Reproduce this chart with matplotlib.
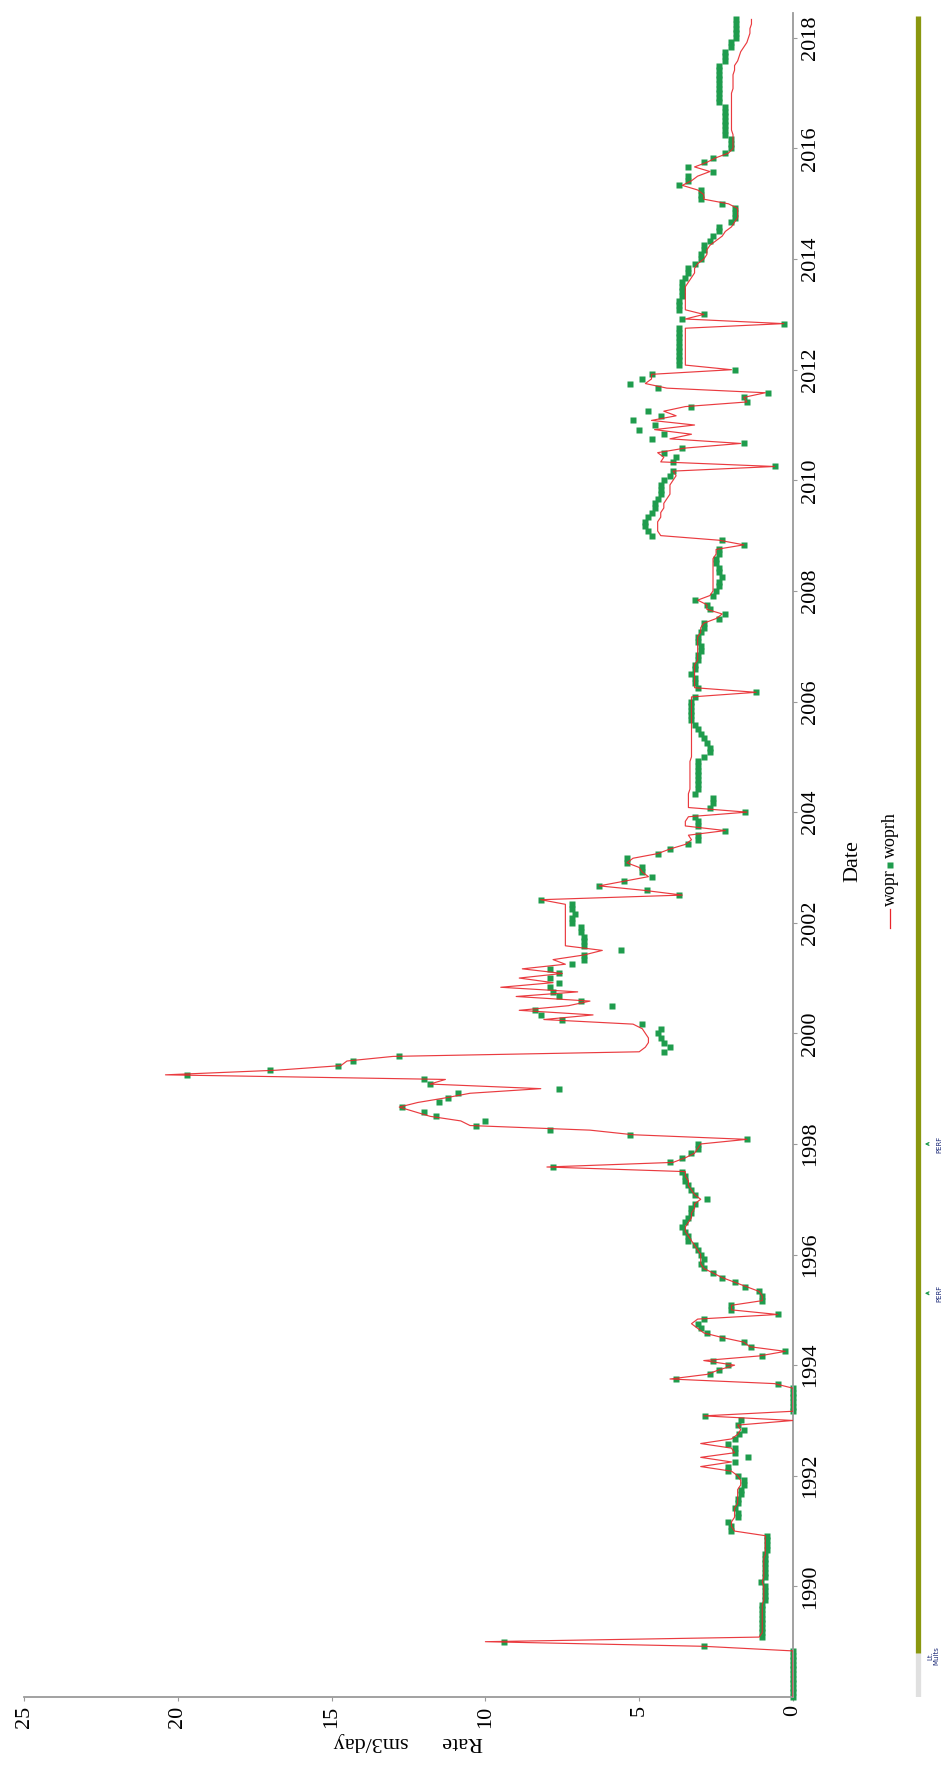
import numpy as np
import matplotlib
matplotlib.use("Agg")
import matplotlib.pyplot as plt
from matplotlib.lines import Line2D

plt.rcParams['font.family'] = ['Liberation Serif', 'DejaVu Serif']

# monthly oil rates, Jan 1988 .. May 2018 (sm3/day), one row per year
woprh = [
    0, 0, 0, 0, 0, 0, 0, 0, 0, 0, 0, 2.9,
    9.4, 1.0, 1.0, 1.0, 1.0, 1.0, 1.0, 1.0, 1.0, 0.9, 0.9, 0.9,
    0.9, 1.05, 0.9, 0.9, 0.9, 0.9, 0.9, 0.9, 0.85, 0.85, 0.85, 0.85,
    2.0, 2.0, 2.1, 1.8, 1.8, 1.9, 1.8, 1.8, 1.7, 1.7, 1.6, 1.6,
    1.8, 2.1, 2.1, 1.9, 1.45, 1.9, 1.9, 2.1, 1.9, 1.75, 1.6, 1.8,
    1.7, 2.85, 0, 0, 0, 0, 0, 0, 0.5, 3.8, 2.7, 2.4,
    2.1, 2.6, 1.0, 0.26, 1.35, 1.6, 2.3, 2.8, 3.0, 3.1, 2.9, 0.5,
    2.0, 2.0, 1.0, 1.0, 1.1, 1.55, 1.9, 2.3, 2.6, 2.9, 3.0, 2.9,
    3.0, 3.1, 3.2, 3.4, 3.4, 3.5, 3.6, 3.5, 3.4, 3.3, 3.3, 3.2,
    2.8, 3.2, 3.3, 3.4, 3.5, 3.5, 3.6, 7.8, 4.0, 3.6, 3.3, 3.1,
    3.1, 1.5, 5.3, 7.9, 10.3, 10.0, 11.6, 12.0, 12.7, 11.5, 11.2, 10.9,
    7.6, 11.8, 12.0, 19.7, 17.0, 14.8, 14.3, 12.8, 4.2, 4.0, 4.2, 4.3,
    4.4, 4.3, 4.9, 7.5, 8.2, 8.4, 5.9, 6.9, 7.6, 7.8, 7.9, 7.6,
    7.9, 7.6, 7.9, 7.2, 6.8, 6.8, 5.6, 6.8, 6.8, 6.8, 6.9, 6.9,
    7.2, 7.2, 7.1, 7.2, 7.2, 8.2, 3.7, 4.75, 6.3, 5.5, 4.6, 4.9,
    4.9, 5.4, 5.4, 4.4, 4.0, 3.4, 3.1, 3.1, 2.2, 3.1, 3.1, 3.2,
    1.55, 2.7, 2.6, 2.6, 3.2, 3.1, 3.1, 3.1, 3.1, 3.1, 3.1, 3.1,
    2.9, 2.7, 2.7, 2.8, 2.9, 3.0, 3.1, 3.2, 3.3, 3.3, 3.3, 3.3,
    3.3, 3.2, 1.2, 3.1, 3.2, 3.2, 3.3, 3.2, 3.2, 3.1, 3.1, 3.0,
    3.0, 3.1, 3.1, 3.0, 2.9, 2.9, 2.4, 2.2, 2.7, 2.8, 3.2, 2.6,
    2.5, 2.4, 2.4, 2.3, 2.4, 2.4, 2.5, 2.5, 2.4, 2.4, 1.6, 2.3,
    4.6, 4.7, 4.8, 4.8, 4.7, 4.6, 4.5, 4.5, 4.4, 4.3, 4.3, 4.3,
    4.2, 4.0, 3.9, 0.6, 3.9, 3.8, 4.2, 3.6, 1.6, 4.6, 4.2, 5.0,
    4.5, 5.2, 4.3, 4.7, 3.3, 1.5, 1.6, 0.8, 4.4, 5.3, 4.9, 4.6,
    1.9, 3.7, 3.7, 3.7, 3.7, 3.7, 3.7, 3.7, 3.7, 3.7, 0.3, 3.6,
    2.9, 3.7, 3.7, 3.7, 3.6, 3.6, 3.6, 3.6, 3.5, 3.4, 3.4, 3.2,
    3.0, 3.0, 2.9, 2.9, 2.7, 2.6, 2.4, 2.4, 2.0, 1.9, 1.9, 1.9,
    2.3, 3.0, 3.0, 3.0, 3.7, 3.4, 3.4, 2.6, 3.4, 2.9, 2.6, 2.2,
    2.0, 2.0, 2.0, 2.2, 2.2, 2.2, 2.2, 2.2, 2.2, 2.2, 2.4, 2.4,
    2.4, 2.4, 2.4, 2.4, 2.4, 2.4, 2.4, 2.2, 2.2, 2.2, 2.0, 2.0,
    1.85, 1.85, 1.85, 1.85, 1.85,
]

wopr = [
    0, 0, 0, 0, 0, 0, 0, 0, 0, 0, 0, 2.9,
    10.0, 1.1, 1.0, 1.0, 1.0, 1.0, 1.0, 1.0, 1.0, 0.95, 0.95, 0.95,
    0.95, 1.0, 0.95, 0.95, 0.95, 0.95, 0.95, 0.9, 0.9, 0.9, 0.9, 0.9,
    1.9, 2.0, 2.0, 1.9, 1.9, 1.9, 1.8, 1.8, 1.8, 1.8, 1.7, 1.7,
    1.8, 2.0, 3.0, 2.0, 3.0, 1.9, 2.0, 3.0, 2.0, 1.8, 1.7, 1.8,
    0.0, 2.9, 0, 0, 0, 0, 0, 0, 0.6, 4.0, 2.8, 2.4,
    1.9, 2.9, 1.1, 0.25, 1.4, 1.6, 2.3, 2.9, 3.1, 3.3, 3.1, 0.5,
    2.0, 2.0, 1.0, 1.0, 1.1, 1.5, 1.9, 2.3, 2.6, 2.9, 3.0, 3.0,
    3.0, 3.1, 3.2, 3.3, 3.4, 3.5, 3.5, 3.4, 3.3, 3.3, 3.2, 3.2,
    3.0, 3.2, 3.3, 3.4, 3.4, 3.5, 3.5, 8.0, 3.9, 3.5, 3.2, 3.1,
    3.0, 1.5, 5.2, 6.6, 10.5, 10.8, 11.8, 12.3, 12.8, 12.2, 11.3, 10.5,
    8.2, 11.8, 11.3, 20.4, 16.8, 14.7, 14.5, 13.0, 5.0, 4.8, 4.7, 4.7,
    4.8, 4.9, 5.2, 8.1, 6.5, 8.9, 7.3, 6.6, 9.0, 7.0, 9.5, 7.8,
    8.9, 7.5, 8.8, 7.4, 7.8, 6.8, 6.2, 7.4, 7.4, 7.4, 7.4, 7.4,
    7.4, 7.4, 7.4, 7.4, 7.4, 8.2, 3.6, 4.8, 6.3, 5.5, 4.7, 4.9,
    5.0, 5.4, 5.2, 4.4, 4.0, 3.5, 3.3, 3.4, 2.2, 3.5, 3.5, 3.4,
    1.5, 3.4, 3.4, 3.4, 3.4, 3.35, 3.35, 3.35, 3.35, 3.35, 3.35, 3.35,
    3.3, 3.3, 3.3, 3.3, 3.3, 3.3, 3.3, 3.3, 3.3, 3.3, 3.3, 3.3,
    3.3, 3.3, 1.2, 3.2, 3.2, 3.2, 3.2, 3.2, 3.2, 3.1, 3.1, 3.1,
    3.1, 3.1, 3.1, 3.0, 3.0, 2.9, 2.5, 2.3, 2.8, 2.8, 3.1, 2.7,
    2.6, 2.6, 2.6, 2.6, 2.6, 2.6, 2.6, 2.6, 2.5, 2.5, 1.6, 2.4,
    4.3, 4.4, 4.4, 4.4, 4.3, 4.3, 4.2, 4.2, 4.1, 4.0, 4.0, 4.0,
    3.9, 3.8, 3.9, 0.6, 4.3, 4.2, 4.4, 3.5, 1.7, 4.0, 3.3, 4.5,
    3.2, 4.6, 3.8, 4.2, 3.5, 1.5, 1.6, 0.9, 4.1, 4.8, 4.6, 4.6,
    2.0, 3.5, 3.5, 3.5, 3.5, 3.5, 3.5, 3.5, 3.5, 3.5, 0.3, 3.5,
    2.9, 3.5, 3.5, 3.5, 3.5, 3.5, 3.5, 3.4, 3.3, 3.2, 3.2, 3.1,
    2.9, 2.8, 2.8, 2.7, 2.5, 2.3, 2.2, 2.0, 1.9, 1.8, 1.8, 1.8,
    2.1, 2.9, 2.9, 3.1, 3.6, 3.3, 3.1, 2.7, 3.2, 2.8, 2.5, 2.1,
    1.95, 1.95, 1.95, 1.95, 2.0, 2.0, 2.0, 2.0, 2.0, 2.0, 2.0, 2.0,
    2.0, 1.95, 1.95, 1.95, 1.95, 1.9, 1.9, 1.8, 1.75, 1.7, 1.6, 1.5,
    1.45, 1.4, 1.4, 1.35, 1.35,
]

# one sample per month starting January 1988
dates = 1988 + np.arange(len(woprh)) / 12.0

date_ticks = list(range(1990, 2019, 2))
rate_ticks = [0, 5, 10, 15, 20, 25]

# well schedule track
track_start, track_end = 1988.0, 2018.4
event_dates = [1988.8, 1995.3, 1998.0]
event_names = ['Lt.\nMults', 'PERF', 'PERF']

W, H = 947, 1771
fig = plt.figure(figsize=(W / 100, H / 100), dpi=100)


def box(x0, y0, x1, y1):
    # pixel box (origin top-left) -> figure rect
    return [x0 / W, 1 - y1 / H, (x1 - x0) / W, (y1 - y0) / H]


green = '#1f9c4d'
red = '#e8262b'
grey = '#9a9a9a'

ax = fig.add_axes(box(24, 13, 793, 1697))
ax.plot(woprh, dates, 's', ms=4.6, color=green, mec='none', clip_on=False, zorder=2)
ax.plot(wopr, dates, '-', color=red, lw=0.85, alpha=0.9, zorder=3)

ax.set_xlim(25, 0)
ax.set_ylim(1988.0, 2018.45)

for s in ['top', 'left']:
    ax.spines[s].set_visible(False)
for s in ['right', 'bottom']:
    ax.spines[s].set_color(grey)
    ax.spines[s].set_linewidth(1.3)

ax.yaxis.tick_right()
ax.set_yticks(date_ticks)
ax.set_yticklabels([str(d) for d in date_ticks], rotation=90, va='center', fontsize=16)
ax.set_xticks(rate_ticks)
ax.set_xticklabels([str(r) for r in rate_ticks], rotation=90, fontsize=16)
ax.tick_params(axis='both', length=3, width=0.8, color=grey, pad=3)
ax.set_xlabel('Rate      sm3/day', rotation=180, fontsize=16, labelpad=3)

fig.text(853 / W, 1 - 861 / H, 'Date', rotation=90, ha='center', va='center', fontsize=16)

# legend, stacked along the date direction
lx = 890 / W
fig.add_artist(Line2D([lx, lx], [1 - 928 / H, 1 - 909 / H], transform=fig.transFigure,
                      color=red, lw=0.9))
fig.text(lx, 1 - 906 / H, 'wopr', rotation=90, ha='center', va='bottom', fontsize=13)
fig.add_artist(Line2D([lx], [1 - 865 / H], transform=fig.transFigure, marker='s',
                      ms=4.6, color=green, mec='none'))
fig.text(lx, 1 - 858 / H, 'woprh', rotation=90, ha='center', va='bottom', fontsize=13)

# schedule track with events
ax2 = fig.add_axes(box(895, 13, 947, 1697), sharey=ax)
ax2.set_xlim(-23, 29)
ax2.axis('off')
ax2.plot([0, 0], [track_start, event_dates[0]], color='#e0e0e0', lw=3.8, solid_capstyle='butt')
ax2.plot([0, 0], [event_dates[0], track_end], color='#8a970f', lw=3.8, solid_capstyle='butt')
ax2.text(15, event_dates[0] - 0.05, event_names[0], rotation=90, ha='center', va='center',
         fontsize=5, color='#1c2a78', family='DejaVu Sans', linespacing=1.0)
for d, name in zip(event_dates[1:], event_names[1:]):
    ax2.annotate('', xy=(4, d), xytext=(13, d),
                 arrowprops=dict(arrowstyle='->', color=green, lw=0.9, mutation_scale=5))
    ax2.text(21, d, name, rotation=90, ha='center', va='center', fontsize=5,
             color='#1c2a78', family='DejaVu Sans')

fig.savefig('out.png', dpi=100)
